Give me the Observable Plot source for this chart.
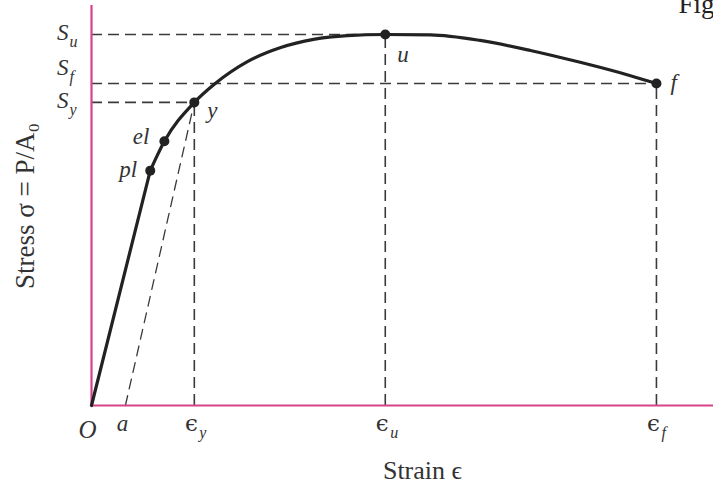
<!DOCTYPE html>
<html>
<head>
<meta charset="utf-8">
<script src="https://cdn.jsdelivr.net/npm/d3@7"></script>
<script src="https://cdn.jsdelivr.net/npm/@observablehq/plot@0.6"></script>
<style>
  body { margin: 0; background: white; }
</style>
</head>
<body>
<div id="chart"></div>
<script>
// stress-strain curve (strain relative to eps_f, stress relative to S_u)
const strain = [0, 0.104, 0.129, 0.182, 0.219, 0.276, 0.335, 0.393, 0.453, 0.520, 0.600, 0.688, 0.777, 0.865, 0.954, 1.0];
const stress = [0, 0.633, 0.712, 0.817, 0.868, 0.927, 0.965, 0.987, 0.997, 1.0, 0.999, 0.984, 0.957, 0.925, 0.889, 0.868];

// marked points on the curve
const pointNames = ["pl", "el", "y", "u", "f"];
const pointStrain = [0.104, 0.129, 0.182, 0.520, 1.0];
const pointStress = [0.633, 0.712, 0.817, 1.0, 0.868];

// stress levels on the y axis
const levelBase = ["S", "S", "S"];
const levelSub = ["u", "f", "y"];
const levelStress = [1.0, 0.868, 0.817];
const levelStrain = [0.520, 1.0, 0.182];

// strain marks on the x axis
const tickBase = ["O", "a", "ϵ", "ϵ", "ϵ"];
const tickSub = ["", "", "y", "u", "f"];
const tickStrain = [0, 0.060, 0.182, 0.520, 1.0];
const tickStress = [0, 0, 0.817, 1.0, 0.868];

const offsetStart = 0.060; // "a", start of the 0.2% offset line

const curve = strain.map((x, i) => ({x, y: stress[i]}));
const elastic = curve.slice(0, 2);   // straight up to the proportional limit
const plastic = curve.slice(1);
const points = pointNames.map((name, i) => ({name, x: pointStrain[i], y: pointStress[i]}));
const levels = levelBase.map((s, i) => ({s, sub: levelSub[i], y: levelStress[i], x: levelStrain[i]}));
const ticks = tickBase.map((s, i) => ({s, sub: tickSub[i], x: tickStrain[i], y: tickStress[i]}));

const pink = "#d9418b";
const ink = "#222";
const dash = "#3a3a3a";
const textInk = "#333";
const serif = "Liberation Serif, Times New Roman, DejaVu Serif, serif";

// label placement relative to each point
const pointLabel = {
  pl: {dx: -13, dy: 6, anchor: "end"},
  el: {dx: -15, dy: 3, anchor: "end"},
  y:  {dx: 13, dy: 16, anchor: "start"},
  u:  {dx: 12, dy: 28, anchor: "start"},
  f:  {dx: 14, dy: 7, anchor: "start"}
};
const levelDy = {u: 6, f: -8, y: 6};
const tickLabel = {
  O: {dx: -4, dy: 32, size: 25, style: "italic", family: serif},
  a: {dx: -3, dy: 25, size: 23, style: "italic", family: serif},
  "ϵ": {dx: -3, dy: 25, size: 23, style: "normal", family: "DejaVu Serif, serif"}
};

const xMax = 1.101;
const yMax = 1.0916;

let chart = Plot.plot({
  width: 713,
  height: 487,
  marginLeft: 91,
  marginRight: 0,
  marginTop: 0,
  marginBottom: 82,
  style: {background: "white", overflow: "visible"},
  x: {domain: [0, xMax], axis: null},
  y: {domain: [0, yMax], axis: null},
  marks: [
    // dashed guides
    Plot.ruleY(levels, {y: "y", x1: 0, x2: "x", stroke: dash, strokeWidth: 1.6, strokeDasharray: "11,6"}),
    Plot.ruleX(ticks.filter(d => d.sub), {x: "x", y1: 0, y2: "y", stroke: dash, strokeWidth: 1.6, strokeDasharray: "11,6"}),
    Plot.line([{x: offsetStart, y: 0}, {x: pointStrain[2], y: pointStress[2]}],
      {x: "x", y: "y", stroke: dash, strokeWidth: 1.3, strokeDasharray: "10,7"}),

    // axes
    Plot.ruleY([0], {x1: 0, x2: xMax, stroke: pink, strokeWidth: 2.2}),
    Plot.ruleX([0], {y1: 0, y2: 1.078, stroke: pink, strokeWidth: 2.2}),

    // curve + points
    Plot.line(elastic, {x: "x", y: "y", stroke: ink, strokeWidth: 3.2}),
    Plot.line(plastic, {x: "x", y: "y", stroke: ink, strokeWidth: 3.2, curve: "monotone-x"}),
    Plot.dot(points, {x: "x", y: "y", r: 5, fill: ink}),

    // point labels
    ...points.map(d => Plot.text([d], {
      x: "x", y: "y", text: "name",
      dx: pointLabel[d.name].dx, dy: pointLabel[d.name].dy,
      textAnchor: pointLabel[d.name].anchor, lineAnchor: "bottom",
      fontFamily: serif, fontStyle: "italic", fontSize: 23, fill: textInk
    })),

    // S labels on the y axis
    ...levels.map(d => Plot.text([d], {
      x: 0, y: "y", text: "s", textAnchor: "end", lineAnchor: "bottom",
      dx: -23, dy: levelDy[d.sub],
      fontFamily: serif, fontStyle: "italic", fontSize: 23, fill: textInk
    })),
    ...levels.map(d => Plot.text([d], {
      x: 0, y: "y", text: "sub", textAnchor: "start", lineAnchor: "bottom",
      dx: -22, dy: levelDy[d.sub] + 7,
      fontFamily: serif, fontStyle: "italic", fontSize: 16, fill: textInk
    })),

    // strain labels under the x axis
    ...ticks.map(d => Plot.text([d], {
      x: "x", y: 0, text: "s", lineAnchor: "bottom",
      dx: tickLabel[d.s].dx, dy: tickLabel[d.s].dy,
      fontFamily: tickLabel[d.s].family, fontStyle: tickLabel[d.s].style,
      fontSize: tickLabel[d.s].size, fill: textInk
    })),
    Plot.text(ticks.filter(d => d.sub), {
      x: "x", y: 0, text: "sub", textAnchor: "start", lineAnchor: "bottom",
      dx: 5, dy: 32,
      fontFamily: serif, fontStyle: "italic", fontSize: 16, fill: textInk
    }),

    // axis titles
    Plot.text(["Strain ϵ"], {
      frameAnchor: "bottom", textAnchor: "middle", dx: 20, dy: 73, lineAnchor: "bottom",
      fontFamily: serif, fontSize: 26, fill: textInk
    }),
    Plot.text(["Stress σ = P/A₀"], {
      frameAnchor: "left", textAnchor: "middle", dx: -58, dy: 3, rotate: -90, lineAnchor: "bottom",
      fontFamily: serif, fontSize: 27, fill: textInk
    }),

    // figure caption, cut off at the top right as in the source
    Plot.text(["Fig"], {
      frameAnchor: "top-right", dx: -35, dy: 12, textAnchor: "start", lineAnchor: "bottom",
      fontFamily: serif, fontSize: 27, fill: "#222"
    })
  ]
});

document.getElementById("chart").append(chart);
</script>
</body>
</html>
